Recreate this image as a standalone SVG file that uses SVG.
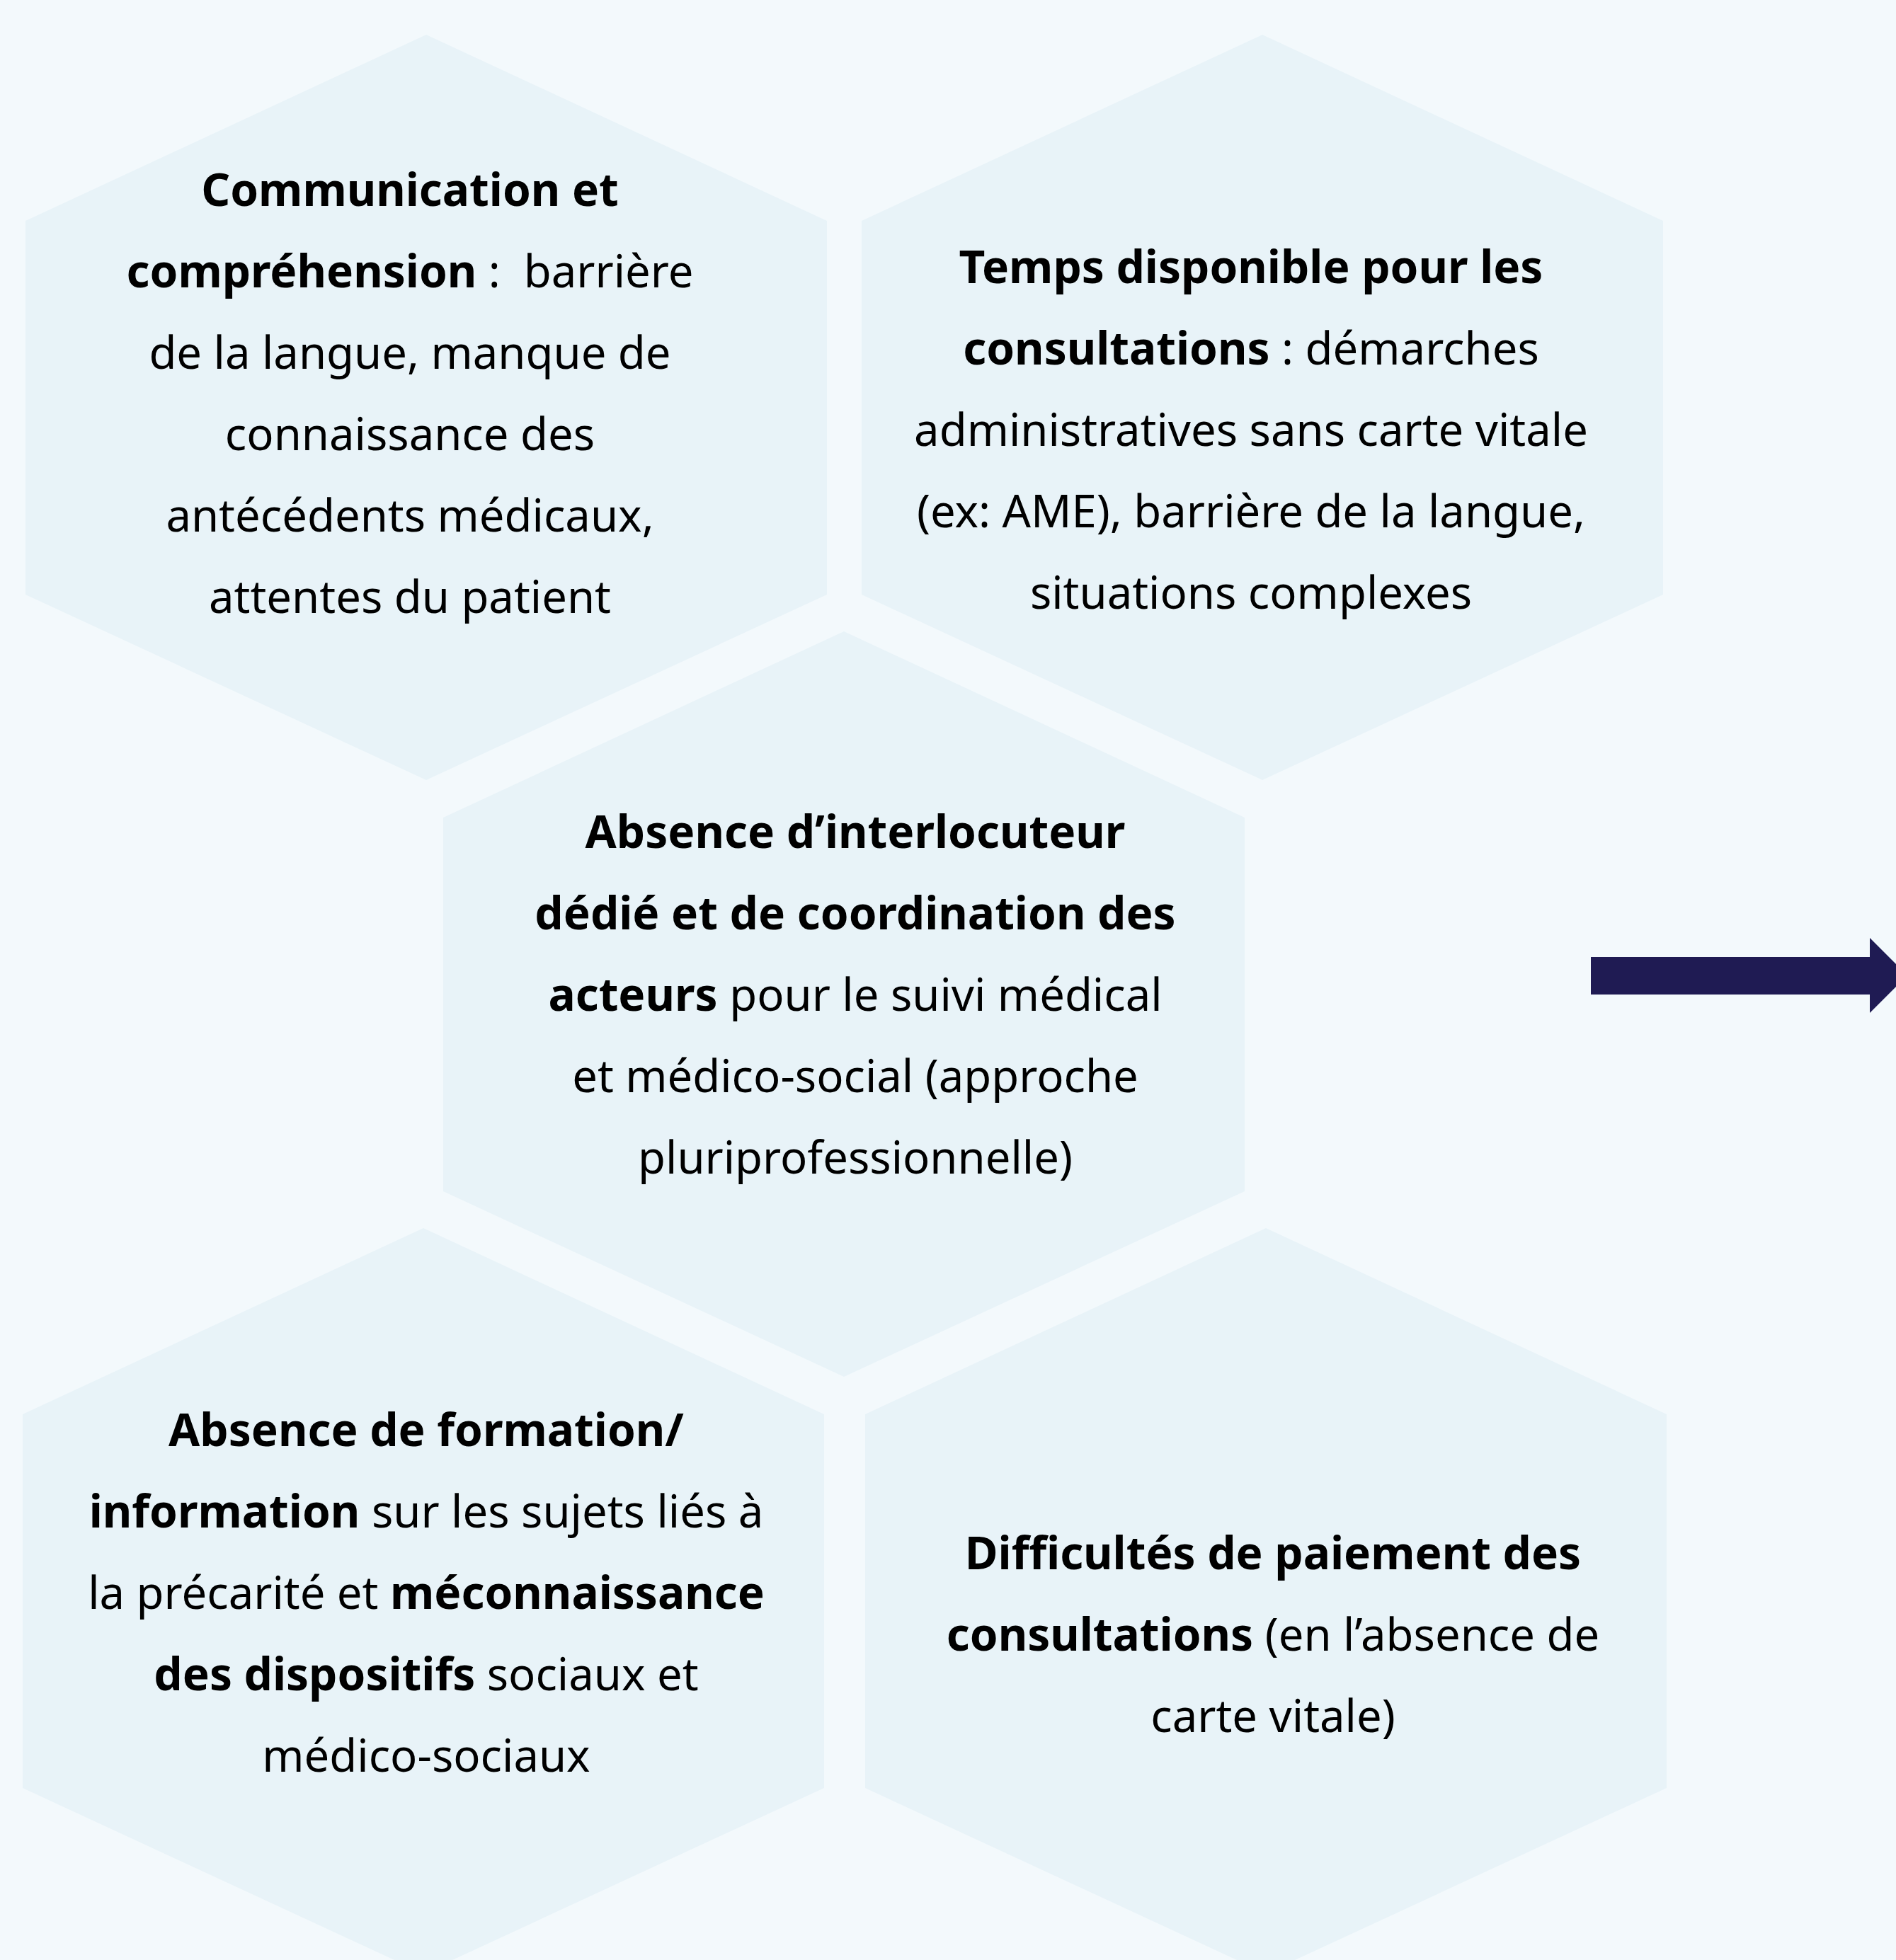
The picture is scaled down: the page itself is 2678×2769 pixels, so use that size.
<svg xmlns="http://www.w3.org/2000/svg" width="2678" height="2769" viewBox="0 0 2678 2769">
<defs>
<style>
.bg{fill:#f3f9fc}
.hex{fill:#e8f3f8}
.t{font-family:"Noto Sans","Open Sans","DejaVu Sans",sans-serif;font-size:63.4px;fill:#000;text-anchor:middle}
.b{font-weight:bold;font-size:63.9px}
.arrow{fill:#1f1b53}
</style>
<polygon id="hexshape" points="0,0 566,263 566,791 0,1053 -566,791 -566,263"/>
</defs>
<rect class="bg" x="0" y="0" width="2678" height="2769"/>
<g id="node-communication">
<use href="#hexshape" class="hex" x="602" y="49"/>
<text class="t"><tspan x="579" y="291" class="b">Communication et</tspan><tspan x="579" y="406"><tspan class="b">compréhension</tspan> :&#160; barrière</tspan><tspan x="579" y="521">de la langue, manque de</tspan><tspan x="579" y="636">connaissance des</tspan><tspan x="579" y="751">antécédents médicaux,</tspan><tspan x="579" y="866">attentes du patient</tspan></text>
</g>
<g id="node-temps">
<use href="#hexshape" class="hex" x="1783" y="49"/>
<text class="t"><tspan x="1767" y="400" class="b">Temps disponible pour les</tspan><tspan x="1767" y="515"><tspan class="b">consultations</tspan> : démarches</tspan><tspan x="1767" y="630">administratives sans carte vitale</tspan><tspan x="1767" y="745">(ex: AME), barrière de la langue,</tspan><tspan x="1767" y="860">situations complexes</tspan></text>
</g>
<g id="node-interlocuteur">
<use href="#hexshape" class="hex" x="1192" y="892"/>
<text class="t"><tspan x="1208" y="1198" class="b">Absence d’interlocuteur</tspan><tspan x="1208" y="1313" class="b">dédié et de coordination des</tspan><tspan x="1208" y="1428"><tspan class="b">acteurs</tspan> pour le suivi médical</tspan><tspan x="1208" y="1543">et médico-social (approche</tspan><tspan x="1208" y="1658">pluriprofessionnelle)</tspan></text>
</g>
<g id="node-formation">
<use href="#hexshape" class="hex" x="598" y="1735"/>
<text class="t"><tspan x="602" y="2043" class="b">Absence de formation/</tspan><tspan x="602" y="2158"><tspan class="b">information</tspan> sur les sujets liés à</tspan><tspan x="602" y="2273">la précarité et <tspan class="b">méconnaissance</tspan></tspan><tspan x="602" y="2388"><tspan class="b">des dispositifs</tspan> sociaux et</tspan><tspan x="602" y="2503">médico-sociaux</tspan></text>
</g>
<g id="node-paiement">
<use href="#hexshape" class="hex" x="1788" y="1735"/>
<text class="t"><tspan x="1798" y="2217" class="b">Difficultés de paiement des</tspan><tspan x="1798" y="2332"><tspan class="b">consultations</tspan> (en l’absence de</tspan><tspan x="1798" y="2447">carte vitale)</tspan></text>
</g>
<g id="connectors">
<polygon class="arrow" points="2247,1352 2641,1352 2641,1325 2694,1378 2641,1431 2641,1405 2247,1405"/>
</g>
</svg>
